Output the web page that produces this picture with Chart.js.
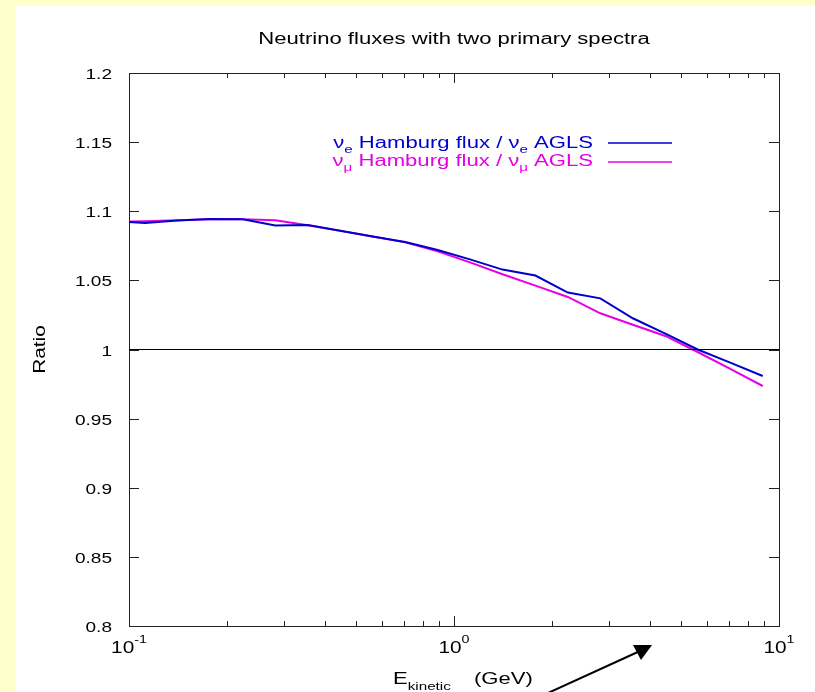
<!DOCTYPE html>
<html>
<head>
<meta charset="utf-8">
<script src="https://cdn.jsdelivr.net/npm/chart.js@4"></script>
<style>
  html, body { margin: 0; padding: 0; background: #ffffcc; }
  #wrap { width: 815px; height: 692px; }
</style>
</head>
<body>
<div id="wrap"><canvas id="c" width="815" height="692"></canvas></div>
<script>
// kinetic energy (GeV)
const energies = [0.1, 0.112, 0.141, 0.178, 0.224, 0.282, 0.355, 0.447, 0.562, 0.708,
                  0.891, 1.12, 1.41, 1.78, 2.24, 2.82, 3.55, 4.47, 5.62, 7.08, 8.91];
// nu_e Hamburg / nu_e AGLS
const nueRatio = [1.0922, 1.0915, 1.0933, 1.0944, 1.0942, 1.0897, 1.0900, 1.0859, 1.0818, 1.0778,
                  1.0720, 1.0652, 1.0578, 1.0535, 1.0412, 1.0370, 1.0226, 1.0115, 1.0000, 0.9905, 0.9808];
// nu_mu Hamburg / nu_mu AGLS
const numuRatio = [1.0925, 1.0928, 1.0935, 1.0942, 1.0943, 1.0935, 1.0898, 1.0858, 1.0818, 1.0775,
                   1.0710, 1.0630, 1.0544, 1.0462, 1.0380, 1.0262, 1.0179, 1.0098, 0.9982, 0.9860, 0.9736];
const refLine = [1, 1];
const refRange = [0.1, 10];

const yTicks = [0.8, 0.85, 0.9, 0.95, 1, 1.05, 1.1, 1.15, 1.2];
const yTickLabels = ['0.8', '0.85', '0.9', '0.95', '1', '1.05', '1.1', '1.15', '1.2'];
const xDecades = [0.1, 1, 10];
const xTickExp = ['-1', '0', '1'];

const BLUE = '#0000cc';
const MAGENTA = '#e600e6';
const FONT = '"Liberation Sans", Arial, sans-serif';

function pts(xs, ys) {
  return xs.map((x, i) => ({ x: x, y: ys[i] }));
}

// draw a run of text pieces [text, size, dy], stretched sideways by sx
function richText(ctx, parts, x, y, align, color, sx) {
  sx = sx || 1.38;
  ctx.save();
  ctx.fillStyle = color || '#000';
  ctx.textBaseline = 'alphabetic';
  let total = 0;
  const widths = parts.map(p => {
    ctx.font = p[1] + 'px ' + FONT;
    const w = ctx.measureText(p[0]).width * sx;
    total += w;
    return w;
  });
  let cx = x;
  if (align === 'center') cx = x - total / 2;
  if (align === 'right') cx = x - total;
  parts.forEach((p, i) => {
    ctx.font = p[1] + 'px ' + FONT;
    ctx.save();
    ctx.translate(cx, y + (p[2] || 0));
    ctx.scale(sx, 1);
    ctx.fillText(p[0], 0, 0);
    ctx.restore();
    cx += widths[i];
  });
  ctx.restore();
}

const decor = {
  id: 'decor',
  beforeDraw(chart) {
    const ctx = chart.ctx;
    ctx.save();
    ctx.fillStyle = '#ffffcc';
    ctx.fillRect(0, 0, chart.width, chart.height);
    ctx.fillStyle = '#ffffff';
    ctx.fillRect(16, 6, chart.width - 16, chart.height - 6);
    ctx.restore();
  },
  beforeDatasetsDraw(chart) {
    const ctx = chart.ctx;
    const a = chart.chartArea;
    const xs = chart.scales.x, ys = chart.scales.y;
    ctx.save();
    ctx.strokeStyle = '#222';
    ctx.lineWidth = 1;
    ctx.strokeRect(a.left + 0.5, a.top + 0.5, a.right - a.left, a.bottom - a.top);
    ctx.beginPath();
    // y ticks, both sides
    yTicks.forEach(v => {
      const py = Math.round(ys.getPixelForValue(v)) + 0.5;
      ctx.moveTo(a.left, py); ctx.lineTo(a.left + 10, py);
      ctx.moveTo(a.right, py); ctx.lineTo(a.right - 10, py);
    });
    // x ticks, major and minor, top and bottom
    for (let d = 0; d < xDecades.length - 1; d++) {
      for (let k = 1; k <= 9; k++) {
        const v = xDecades[d] * k;
        const len = k === 1 ? 10 : 5;
        const px = Math.round(xs.getPixelForValue(v)) + 0.5;
        ctx.moveTo(px, a.bottom); ctx.lineTo(px, a.bottom - len);
        ctx.moveTo(px, a.top); ctx.lineTo(px, a.top + len);
      }
    }
    ctx.stroke();
    ctx.restore();
  },
  afterDraw(chart) {
    const ctx = chart.ctx;
    const a = chart.chartArea;
    const xs = chart.scales.x, ys = chart.scales.y;

    // title
    richText(ctx, [['Neutrino fluxes with two primary spectra', 16]], (a.left + a.right) / 2, 44, 'center');

    // y tick labels
    yTicks.forEach((v, i) => {
      richText(ctx, [[yTickLabels[i], 15]], a.left - 17, ys.getPixelForValue(v) + 6, 'right', '#000', 1.27);
    });
    // x tick labels
    xDecades.forEach((v, i) => {
      richText(ctx, [['10', 16], [xTickExp[i], 11, -10]], xs.getPixelForValue(v), 653, 'center', '#000', 1.3);
    });

    // y title
    ctx.save();
    ctx.translate(45, (a.top + a.bottom) / 2);
    ctx.rotate(-Math.PI / 2);
    richText(ctx, [['Ratio', 16]], 0, 0, 'center', '#000', 1.3);
    ctx.restore();

    // x title
    richText(ctx, [['E', 16], ['kinetic', 11, 6]], 393, 684, 'left');
    richText(ctx, [['(GeV)', 16]], 474, 684, 'left');

    // legend
    const rows = [
      { sub: 'e', color: BLUE, y: 148, ly: 143 },
      { sub: '\u03bc', color: MAGENTA, y: 166, ly: 162 }
    ];
    rows.forEach(r => {
      richText(ctx, [['\u03bd', 16], [r.sub, 11, 5], [' Hamburg flux / \u03bd', 16], [r.sub, 11, 5], [' AGLS', 16]],
        593, r.y, 'right', r.color);
      ctx.save();
      ctx.strokeStyle = r.color;
      ctx.lineWidth = 1.5;
      ctx.beginPath();
      ctx.moveTo(608, r.ly); ctx.lineTo(672, r.ly);
      ctx.stroke();
      ctx.restore();
    });

    // arrow
    ctx.save();
    ctx.strokeStyle = '#000';
    ctx.fillStyle = '#000';
    ctx.lineWidth = 2;
    ctx.beginPath();
    ctx.moveTo(548, 693); ctx.lineTo(640, 651);
    ctx.stroke();
    ctx.beginPath();
    ctx.moveTo(652, 645); ctx.lineTo(633, 645); ctx.lineTo(641, 660);
    ctx.closePath();
    ctx.fill();
    ctx.restore();
  }
};

new Chart(document.getElementById('c'), {
  type: 'line',
  data: {
    datasets: [
      { data: pts(refRange, refLine), borderColor: '#000', borderWidth: 1.2, pointRadius: 0, tension: 0 },
      { data: pts(energies, nueRatio), borderColor: BLUE, borderWidth: 2, pointRadius: 0, tension: 0 },
      { data: pts(energies, numuRatio), borderColor: MAGENTA, borderWidth: 2, pointRadius: 0, tension: 0 }
    ]
  },
  options: {
    responsive: false,
    animation: false,
    layout: { padding: { left: 129, right: 36, top: 73, bottom: 66 } },
    plugins: { legend: { display: false }, tooltip: { enabled: false } },
    scales: {
      x: { type: 'logarithmic', min: 0.1, max: 10, display: false },
      y: { type: 'linear', min: 0.8, max: 1.2, display: false }
    }
  },
  plugins: [decor]
});
</script>
</body>
</html>
